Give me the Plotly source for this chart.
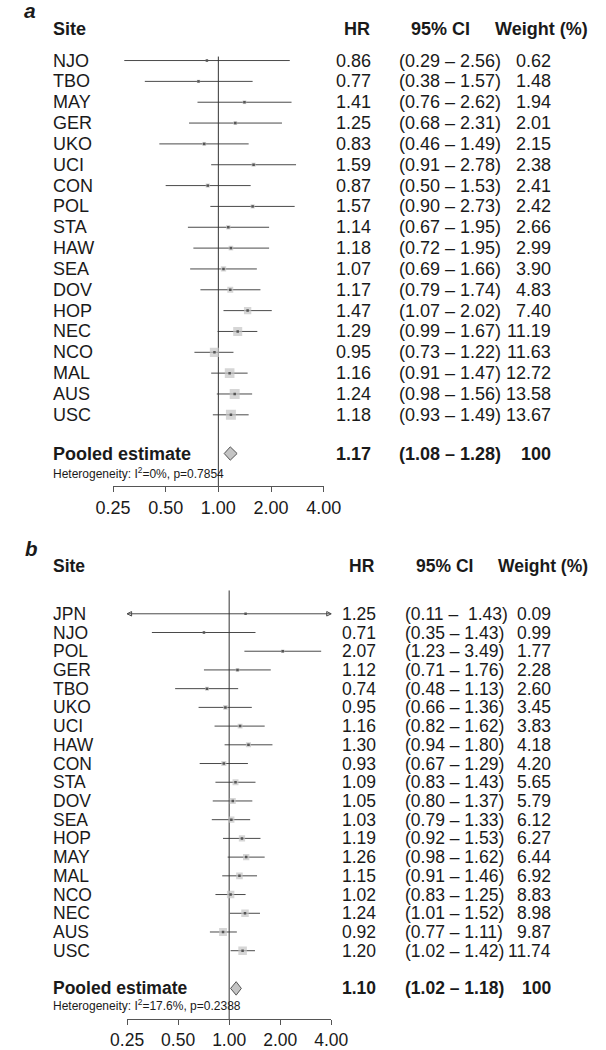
import math
import plotly.graph_objects as go

# ---------------- data: panel a ----------------
sites_a = ["NJO", "TBO", "MAY", "GER", "UKO", "UCI", "CON", "POL", "STA", "HAW",
           "SEA", "DOV", "HOP", "NEC", "NCO", "MAL", "AUS", "USC"]
hr_a = [0.86, 0.77, 1.41, 1.25, 0.83, 1.59, 0.87, 1.57, 1.14, 1.18,
        1.07, 1.17, 1.47, 1.29, 0.95, 1.16, 1.24, 1.18]
lo_a = [0.29, 0.38, 0.76, 0.68, 0.46, 0.91, 0.50, 0.90, 0.67, 0.72,
        0.69, 0.79, 1.07, 0.99, 0.73, 0.91, 0.98, 0.93]
hi_a = [2.56, 1.57, 2.62, 2.31, 1.49, 2.78, 1.53, 2.73, 1.95, 1.95,
        1.66, 1.74, 2.02, 1.67, 1.22, 1.47, 1.56, 1.49]
w_a = [0.62, 1.48, 1.94, 2.01, 2.15, 2.38, 2.41, 2.42, 2.66, 2.99,
       3.90, 4.83, 7.40, 11.19, 11.63, 12.72, 13.58, 13.67]
ci_text_a = ["(0.29 – 2.56)", "(0.38 – 1.57)", "(0.76 – 2.62)", "(0.68 – 2.31)",
             "(0.46 – 1.49)", "(0.91 – 2.78)", "(0.50 – 1.53)", "(0.90 – 2.73)",
             "(0.67 – 1.95)", "(0.72 – 1.95)", "(0.69 – 1.66)", "(0.79 – 1.74)",
             "(1.07 – 2.02)", "(0.99 – 1.67)", "(0.73 – 1.22)", "(0.91 – 1.47)",
             "(0.98 – 1.56)", "(0.93 – 1.49)"]
pooled_a = {"hr": 1.17, "lo": 1.08, "hi": 1.28, "ci": "(1.08 – 1.28)", "w": "100"}
het_a = "Heterogeneity: I<sup>2</sup>=0%, p=0.7854"

# ---------------- data: panel b ----------------
sites_b = ["JPN", "NJO", "POL", "GER", "TBO", "UKO", "UCI", "HAW", "CON", "STA",
           "DOV", "SEA", "HOP", "MAY", "MAL", "NCO", "NEC", "AUS", "USC"]
hr_b = [1.25, 0.71, 2.07, 1.12, 0.74, 0.95, 1.16, 1.30, 0.93, 1.09,
        1.05, 1.03, 1.19, 1.26, 1.15, 1.02, 1.24, 0.92, 1.20]
lo_b = [0.11, 0.35, 1.23, 0.71, 0.48, 0.66, 0.82, 0.94, 0.67, 0.83,
        0.80, 0.79, 0.92, 0.98, 0.91, 0.83, 1.01, 0.77, 1.02]
hi_b = [14.3, 1.43, 3.49, 1.76, 1.13, 1.36, 1.62, 1.80, 1.29, 1.43,
        1.37, 1.33, 1.53, 1.62, 1.46, 1.25, 1.52, 1.11, 1.42]
w_b = [0.09, 0.99, 1.77, 2.28, 2.60, 3.45, 3.83, 4.18, 4.20, 5.65,
       5.79, 6.12, 6.27, 6.44, 6.92, 8.83, 8.98, 9.87, 11.74]
ci_text_b = ["(0.11 –\u00a0 1.43)", "(0.35 – 1.43)", "(1.23 – 3.49)", "(0.71 – 1.76)",
             "(0.48 – 1.13)", "(0.66 – 1.36)", "(0.82 – 1.62)", "(0.94 – 1.80)",
             "(0.67 – 1.29)", "(0.83 – 1.43)", "(0.80 – 1.37)", "(0.79 – 1.33)",
             "(0.92 – 1.53)", "(0.98 – 1.62)", "(0.91 – 1.46)", "(0.83 – 1.25)",
             "(1.01 – 1.52)", "(0.77 – 1.11)", "(1.02 – 1.42)"]
pooled_b = {"hr": 1.10, "lo": 1.02, "hi": 1.18, "ci": "(1.02 – 1.18)", "w": "100"}
het_b = "Heterogeneity: I<sup>2</sup>=17.6%, p=0.2388"

tick_vals = [0.25, 0.5, 1, 2, 4]
tick_text = ["0.25", "0.50", "1.00", "2.00", "4.00"]

# ---------------- styling ----------------
W, H = 606, 1050
FONT = "Liberation Sans, Arial, Helvetica, sans-serif"
TXT = "#1a1a1a"
LINE = "#4a4a4a"
BOX = "#c4c4c4"

fig = go.Figure()
annotations = []


def pxx(x):
    return x / W


def panel(sites, hr, lo, hi, w, ci_text, pooled, het, cfg):
    xa, ya = cfg["xa"], cfg["ya"]
    xref = "x" if xa == "xaxis" else "x2"
    yref = "y" if ya == "yaxis" else "y2"
    n = len(sites)
    rows = list(range(n))
    xmin, xmax = tick_vals[0], tick_vals[-1]
    fs = cfg["fs"]

    # CI lines
    lx, ly = [], []
    for i in rows:
        lx += [max(lo[i], xmin * 0.999), min(hi[i], xmax * 1.001), None]
        ly += [i, i, None]
    fig.add_trace(go.Scatter(x=lx, y=ly, mode="lines", xaxis=xref, yaxis=yref,
                             line=dict(color=LINE, width=1), hoverinfo="skip",
                             showlegend=False))
    # arrows for truncated CIs
    axs, ays, syms = [], [], []
    for i in rows:
        if lo[i] < xmin:
            axs.append(xmin); ays.append(i); syms.append("arrow-left-open")
        if hi[i] > xmax:
            axs.append(xmax); ays.append(i); syms.append("arrow-right-open")
    if axs:
        fig.add_trace(go.Scatter(x=axs, y=ays, mode="markers", xaxis=xref, yaxis=yref,
                                 marker=dict(symbol=syms, size=4.5, color=LINE,
                                             line=dict(color=LINE, width=1)),
                                 cliponaxis=False, hoverinfo="skip", showlegend=False))
    # reference line at 1
    fig.add_trace(go.Scatter(x=[1, 1], y=[cfg["vtop"], cfg["yr"][0]], mode="lines",
                             xaxis=xref, yaxis=yref,
                             line=dict(color="#333333", width=1),
                             hoverinfo="skip", showlegend=False))
    # weight boxes
    fig.add_trace(go.Scatter(x=hr, y=rows, mode="markers", xaxis=xref, yaxis=yref,
                             marker=dict(symbol="square", color=BOX,
                                         size=[cfg["k"] * math.sqrt(v) for v in w],
                                         line=dict(width=0)),
                             hoverinfo="skip", showlegend=False))
    fig.add_trace(go.Scatter(x=hr, y=rows, mode="markers", xaxis=xref, yaxis=yref,
                             marker=dict(symbol="square", color="#555555", size=2.5,
                                         line=dict(width=0)),
                             hoverinfo="skip", showlegend=False))
    # pooled diamond
    pr = cfg["pooled_row"]
    dh = cfg["dh"]
    fig.add_trace(go.Scatter(x=[pooled["lo"], pooled["hr"], pooled["hi"], pooled["hr"], pooled["lo"]],
                             y=[pr, pr - dh, pr, pr + dh, pr], mode="lines", fill="toself",
                             fillcolor=BOX, line=dict(color="#555555", width=1),
                             xaxis=xref, yaxis=yref, hoverinfo="skip", showlegend=False))

    fig.update_layout(**{
        xa: dict(type="log", domain=[pxx(cfg["x0"]), pxx(cfg["x1"])],
                 range=[math.log10(xmin), math.log10(xmax)],
                 tickvals=tick_vals, ticktext=tick_text, showgrid=False, zeroline=False,
                 showline=True, linecolor="#555555", linewidth=1, ticks="outside",
                 ticklen=5, tickcolor="#555555", tickwidth=1,
                 tickfont=dict(family=FONT, size=fs, color=TXT),
                 anchor=yref, fixedrange=True),
        ya: dict(domain=cfg["ydom"], range=cfg["yr"], visible=False, showgrid=False,
                 zeroline=False, anchor=xref, fixedrange=True),
    })

    def ann(x, y, text, xanchor="left", bold=False, size=None, italic=False):
        t = text
        if bold:
            t = "<b>" + t + "</b>"
        if italic:
            t = "<i>" + t + "</i>"
        annotations.append(dict(x=pxx(x), y=y, xref="paper", yref=yref, text=t,
                                showarrow=False, xanchor=xanchor, yanchor="middle",
                                font=dict(family=FONT, size=size or fs, color=TXT)))

    c = cfg
    ann(c["lab_x"], c["panel_row"], c["panel"], bold=True, italic=True, size=fs + 3,
        xanchor="left")
    hrow = c["header_row"]
    ann(c["site_x"], hrow, "Site", bold=True)
    ann(c["hrh_x"], hrow, "HR", bold=True, xanchor="center")
    ann(c["cih_x"], hrow, "95% CI", bold=True, xanchor="center")
    ann(c["wh_x"], hrow, "Weight (%)", bold=True, xanchor="center")
    for i in rows:
        ann(c["site_x"], i, sites[i])
        ann(c["hr_x"], i, f"{hr[i]:.2f}", xanchor="right")
        ann(c["ci_x"], i, ci_text[i])
        ann(c["w_x"], i, f"{w[i]:.2f}", xanchor="right")
    ann(c["site_x"], pr, "Pooled estimate", bold=True)
    ann(c["hr_x"], pr, f"{pooled['hr']:.2f}", bold=True, xanchor="right")
    ann(c["ci_x"], pr, pooled["ci"], bold=True)
    ann(c["w_x"], pr, pooled["w"], bold=True, xanchor="right")
    ann(c["site_x"], c["het_row"], het, size=12)


# pixel helpers: row r at pixel p = p0 + s*r
def rows_from_px(p, p0, s):
    return (p - p0) / s


# panel a geometry
p0a, sa = 61.0, 21.0
cfg_a = dict(xa="xaxis", ya="yaxis", x0=101, x1=325, fs=18, k=2.7,
             ydom=[1 - 490 / H, 1.0],
             yr=[rows_from_px(490, p0a, sa), rows_from_px(0, p0a, sa)],
             vtop=rows_from_px(57, p0a, sa),
             pooled_row=rows_from_px(457, p0a, sa), dh=0.32,
             het_row=rows_from_px(477, p0a, sa),
             header_row=rows_from_px(29, p0a, sa),
             panel_row=rows_from_px(11, p0a, sa), panel="a", lab_x=4,
             site_x=35, hr_x=377, ci_x=403, w_x=569,
             hrh_x=360, cih_x=449, wh_x=557)

# panel b geometry
p0b, sb = 618.5, (958.0 - 618.5) / 18
cfg_b = dict(xa="xaxis2", ya="yaxis2", x0=116, x1=333, fs=17.5, k=2.5,
             ydom=[1 - 1027 / H, 1 - 540 / H],
             yr=[rows_from_px(1027, p0b, sb), rows_from_px(540, p0b, sb)],
             vtop=rows_from_px(595, p0b, sb),
             pooled_row=rows_from_px(996, p0b, sb), dh=0.36,
             het_row=rows_from_px(1013, p0b, sb),
             header_row=rows_from_px(570, p0b, sb),
             panel_row=rows_from_px(553, p0b, sb), panel="b", lab_x=5,
             site_x=35, hr_x=383, ci_x=409, w_x=569,
             hrh_x=366, cih_x=453, wh_x=558)

panel(sites_a, hr_a, lo_a, hi_a, w_a, ci_text_a, pooled_a, het_a, cfg_a)
panel(sites_b, hr_b, lo_b, hi_b, w_b, ci_text_b, pooled_b, het_b, cfg_b)

fig.update_layout(width=W, height=H, margin=dict(l=0, r=0, t=0, b=0),
                  paper_bgcolor="white", plot_bgcolor="rgba(0,0,0,0)",
                  annotations=annotations, showlegend=False,
                  font=dict(family=FONT, color=TXT))

fig.write_html("out.html", config={"displayModeBar": False, "staticPlot": True},
               post_script="document.body.style.margin='0';"
                           "document.body.style.overflow='hidden';")
